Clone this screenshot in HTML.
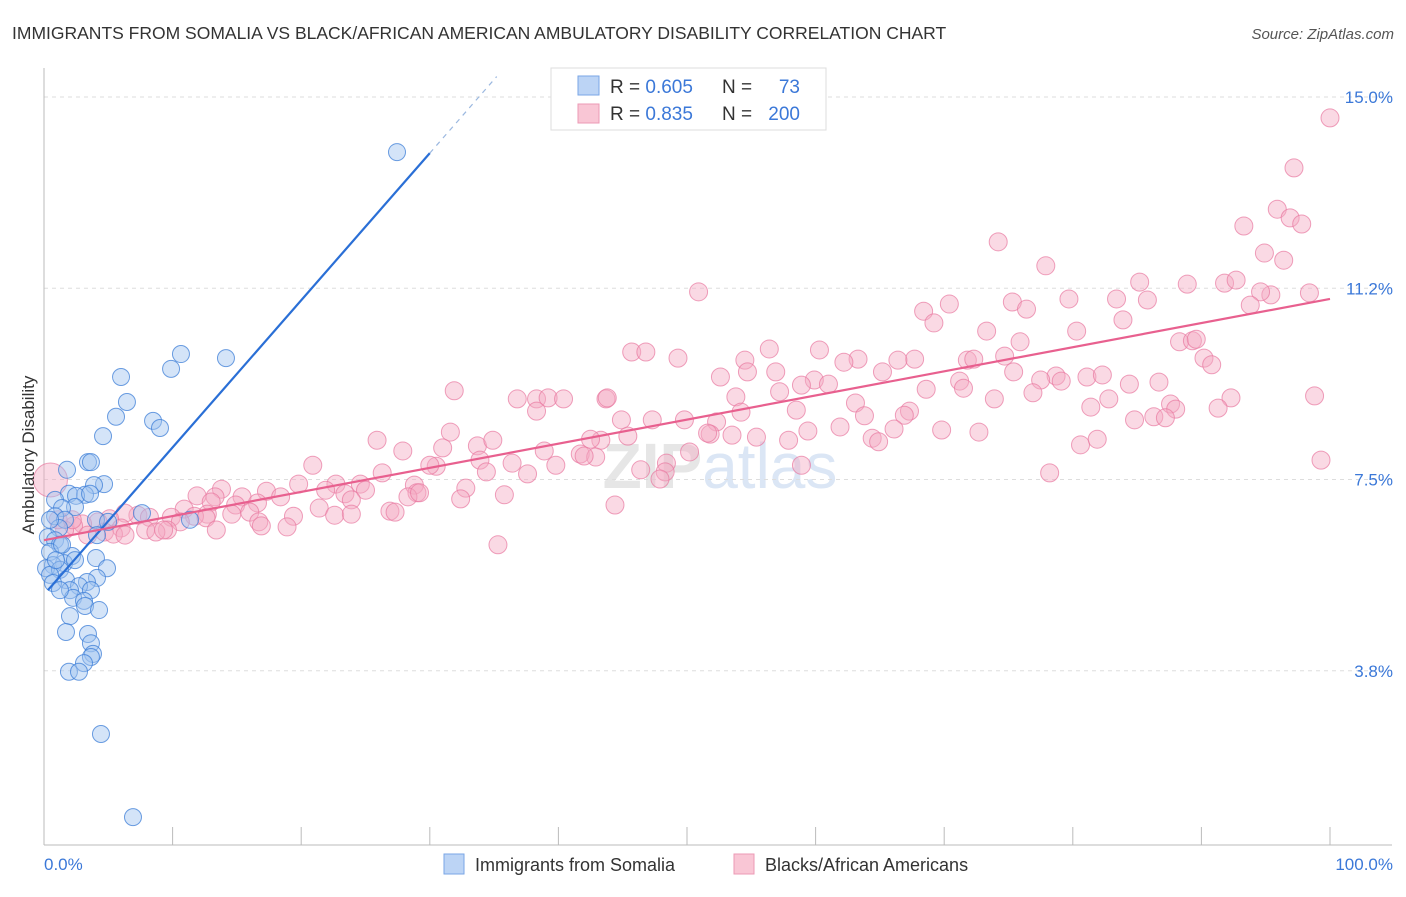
<!DOCTYPE html>
<html><head><meta charset="utf-8">
<style>
body{margin:0;background:#fff;font-family:"Liberation Sans",sans-serif;}
svg text{font-family:"Liberation Sans",sans-serif;}
</style></head>
<body>
<svg id="chart" width="1406" height="892" xmlns="http://www.w3.org/2000/svg">
<text x="12" y="39" font-size="17.5" fill="#333">IMMIGRANTS FROM SOMALIA VS BLACK/AFRICAN AMERICAN AMBULATORY DISABILITY CORRELATION CHART</text>
<text x="1394" y="39" font-size="15" fill="#555" text-anchor="end" font-style="italic">Source: ZipAtlas.com</text>
<text x="720" y="488" font-size="64" fill="#e6e6e6" text-anchor="middle" font-weight="bold">ZIP<tspan fill="#dbe6f5" font-weight="normal">atlas</tspan></text>
<g id="grid"></g>
<g id="axes"></g>
<g id="pink"></g>
<g id="blue"></g>
<g id="lines"></g>
<text transform="translate(34,455) rotate(-90)" font-size="17" fill="#333" text-anchor="middle">Ambulatory Disability</text>
<g>
<rect x="551" y="68" width="275" height="62" fill="#fff" stroke="#ddd"/>
<rect x="578" y="76" width="21" height="19" fill="#bcd4f5" stroke="#7aa6e6"/>
<rect x="578" y="104" width="21" height="19" fill="#f9c6d5" stroke="#ec9ab5"/>
<text x="610" y="93" font-size="19" fill="#333">R = <tspan fill="#3b78d8">0.605</tspan></text>
<text x="722" y="93" font-size="19" fill="#333">N =</text>
<text x="800" y="93" font-size="19" fill="#3b78d8" text-anchor="end">73</text>
<text x="610" y="120" font-size="19" fill="#333">R = <tspan fill="#3b78d8"> 0.835</tspan></text>
<text x="722" y="120" font-size="19" fill="#333">N =</text>
<text x="800" y="120" font-size="19" fill="#3b78d8" text-anchor="end">200</text>
</g>
<g>
<rect x="444" y="854" width="20" height="20" fill="#bcd4f5" stroke="#7aa6e6"/>
<text x="475" y="871" font-size="18" fill="#333">Immigrants from Somalia</text>
<rect x="734" y="854" width="20" height="20" fill="#f9c6d5" stroke="#ec9ab5"/>
<text x="765" y="871" font-size="18" fill="#333">Blacks/African Americans</text>
</g>
</svg>
<script>
const yTicks=[3.75,7.5,11.25,15];
const yTickLabels=["3.8%","7.5%","11.2%","15.0%"];
const xTicks=[0,10,20,30,40,50,60,70,80,90,100];
const blueX=[27.45,10.65,14.15,9.88,5.99,6.45,5.6,8.48,9.02,4.59,3.42,3.65,1.79,4.67,3.89,1.94,3.19,2.49,3.58,0.86,2.41,1.4,7.62,0.86,11.35,1.63,4.04,1.17,4.12,0.3,0.86,1.24,2.18,0.47,4.04,1.56,4.9,0.7,0.16,1.24,0.47,4.12,1.71,0.7,3.34,2.72,3.65,2.02,2.26,3.11,3.19,4.28,2.02,1.71,3.42,3.65,3.81,3.65,3.11,1.94,2.72,4.43,6.92,0.93,1.4,2.41,1.24,0.47,4.98];
const blueY=[13.92,9.96,9.88,9.67,9.51,9.02,8.73,8.65,8.51,8.35,7.84,7.84,7.69,7.41,7.39,7.22,7.2,7.18,7.22,7.1,6.96,6.94,6.84,6.78,6.71,6.71,6.71,6.55,6.41,6.37,6.31,6.22,6.0,6.08,5.96,5.86,5.76,5.82,5.76,5.73,5.63,5.57,5.53,5.47,5.49,5.41,5.33,5.33,5.18,5.12,5.02,4.94,4.82,4.51,4.47,4.29,4.08,4.02,3.9,3.73,3.73,2.51,0.88,5.92,6.22,5.92,5.33,6.71,6.67];
const pinkX=[100,97.2,95.9,96.9,97.8,93.3,94.9,96.4,74.2,77.9,50.9,85.2,88.9,91.8,92.7,95.4,94.6,98.4,93.8,79.7,83.4,85.8,75.3,76.4,70.4,68.4,69.2,83.9,80.3,73.3,88.3,89.3,89.6,75.9,74.7,67.7,71.8,72.3,66.4,63.3,62.2,60.3,56.4,45.7,46.8,49.3,54.5,90.2,90.8,75.4,78.7,81.1,79.1,82.3,86.7,84.4,77.5,52.6,54.7,56.9,59.9,61.0,65.2,58.9,71.2,71.5,68.6,76.9,63.1,73.9,31.9,36.8,38.3,39.2,40.4,43.7,43.8,53.8,57.2,82.8,81.4,87.6,88.0,92.3,91.3,98.8,38.3,67.3,66.9,54.2,58.5,63.8,84.8,86.3,87.2,44.9,47.3,49.8,52.3,43.3,42.5,45.4,51.8,51.6,53.5,55.4,57.9,59.4,61.9,64.4,66.1,69.8,72.7,80.6,81.9,31.6,25.9,27.9,31.0,33.7,34.9,38.9,41.7,42.9,42.0,64.9,30.5,30.0,33.9,36.4,39.8,46.4,48.4,50.2,48.3,47.9,58.9,78.2,99.3,20.9,34.4,37.6,26.3,19.8,22.7,24.6,28.8,13.8,17.3,21.9,32.8,29.0,11.9,13.3,15.4,18.4,23.4,25.0,35.8,28.3,29.2,32.4,13.0,14.9,16.6,21.4,23.9,10.9,12.7,9.9,11.7,14.6,16.0,19.4,22.6,23.9,26.9,27.3,44.4,16.7,16.9,18.9,7.3,8.2,6.3,5.1,4.2,10.6,12.6,13.4,9.6,7.9,8.7,9.3,6.0,4.7,5.4,3.0,2.3,1.6,3.4,35.3,1.1,6.3,2.2,0.5];
const pinkY=[14.59,13.61,12.8,12.63,12.51,12.47,11.94,11.8,12.16,11.69,11.18,11.37,11.33,11.35,11.41,11.12,11.18,11.16,10.92,11.04,11.04,11.02,10.98,10.84,10.94,10.8,10.57,10.63,10.41,10.41,10.2,10.22,10.25,10.2,9.92,9.86,9.84,9.86,9.84,9.86,9.8,10.04,10.06,10.0,10.0,9.88,9.84,9.88,9.75,9.61,9.53,9.51,9.43,9.55,9.41,9.37,9.45,9.51,9.61,9.61,9.45,9.37,9.61,9.35,9.43,9.29,9.27,9.2,9.0,9.08,9.24,9.08,9.08,9.1,9.08,9.08,9.1,9.12,9.22,9.08,8.92,8.98,8.88,9.1,8.9,9.14,8.84,8.84,8.76,8.82,8.86,8.75,8.67,8.73,8.71,8.67,8.67,8.67,8.63,8.27,8.29,8.35,8.39,8.41,8.37,8.33,8.27,8.45,8.53,8.31,8.49,8.47,8.43,8.18,8.29,8.43,8.27,8.06,8.12,8.16,8.27,8.06,8.0,7.94,7.96,8.24,7.76,7.78,7.88,7.82,7.78,7.69,7.82,8.04,7.65,7.51,7.78,7.63,7.88,7.78,7.65,7.61,7.63,7.41,7.41,7.41,7.39,7.31,7.27,7.29,7.33,7.24,7.18,7.16,7.16,7.16,7.22,7.29,7.2,7.16,7.24,7.12,7.06,7.0,7.04,6.94,7.1,6.92,6.82,6.76,6.78,6.82,6.86,6.78,6.8,6.82,6.88,6.86,7.0,6.67,6.59,6.57,6.8,6.76,6.84,6.73,6.67,6.67,6.75,6.51,6.51,6.51,6.47,6.51,6.55,6.47,6.43,6.63,6.59,6.51,6.41,6.22,6.71,6.41,6.71,7.49];
const blueTrend=[0.3,5.33,30.0,13.9];
const pinkTrend=[0,6.31,100,11.04];
const NS="http://www.w3.org/2000/svg";
const X0=44,X1=1330,YB=862,YS=51;
function xs(v){return X0+(X1-X0)*v/100;}
function ys(v){return YB-v*YS;}
function mk(tag,attrs,parent){const e=document.createElementNS(NS,tag);for(const k in attrs)e.setAttribute(k,attrs[k]);parent.appendChild(e);return e;}
const grid=document.getElementById('grid'),axes=document.getElementById('axes');
yTicks.forEach((t,i)=>{
 const l=mk('line',{x1:44,x2:1392,y1:ys(t),y2:ys(t),stroke:'#ddd','stroke-dasharray':'4 4'},grid);
 
 
 const tx=mk('text',{x:1393,y:ys(t)+6,'font-size':17,fill:'#3b78d8','text-anchor':'end'},axes);
 tx.textContent=yTickLabels[i];
 
 
});
const ax=mk('line',{x1:44,x2:44,y1:68,y2:845,stroke:'#bbb'},axes);


const bx=mk('line',{x1:44,x2:1392,y1:845,y2:845,stroke:'#bbb'},axes);


xTicks.forEach(t=>{
 const l=mk('line',{x1:xs(t),x2:xs(t),y1:827,y2:845,stroke:'#bbb'},axes);
 
 
});
const xl0=mk('text',{x:44,y:870,'font-size':17,fill:'#3b78d8'},axes);xl0.textContent='0.0%';


const xl1=mk('text',{x:1393,y:870,'font-size':17,fill:'#3b78d8','text-anchor':'end'},axes);xl1.textContent='100.0%';


const pg=document.getElementById('pink');
pinkX.forEach((v,i)=>{
 const big=i===pinkX.length-1;
 const c=mk('circle',{cx:xs(v),cy:ys(pinkY[i]),r:big?17:9,fill:'rgba(244,170,195,0.45)',stroke:'rgba(232,120,160,0.7)','stroke-width':1},pg);
 
 
});
const bg=document.getElementById('blue');
blueX.forEach((v,i)=>{
 const c=mk('circle',{cx:xs(v),cy:ys(blueY[i]),r:8.5,fill:'rgba(160,195,240,0.45)',stroke:'rgba(60,125,215,0.75)','stroke-width':1},bg);
 
 
});
const lg=document.getElementById('lines');
const bl=mk('line',{x1:xs(blueTrend[0]),y1:ys(blueTrend[1]),x2:xs(blueTrend[2]),y2:ys(blueTrend[3]),stroke:'#2a6fd6','stroke-width':2.2},lg);


const slope=(blueTrend[3]-blueTrend[1])/(blueTrend[2]-blueTrend[0]);
const ext=35.2;
const bd=mk('line',{x1:xs(blueTrend[2]),y1:ys(blueTrend[3]),x2:xs(ext),y2:ys(blueTrend[3]+slope*(ext-blueTrend[2])),stroke:'#9bb8e0','stroke-width':1.2,'stroke-dasharray':'5 5'},lg);


const pl=mk('line',{x1:xs(pinkTrend[0]),y1:ys(pinkTrend[1]),x2:xs(pinkTrend[2]),y2:ys(pinkTrend[3]),stroke:'#e8608f','stroke-width':2.2},lg);


</script>
</body></html>
